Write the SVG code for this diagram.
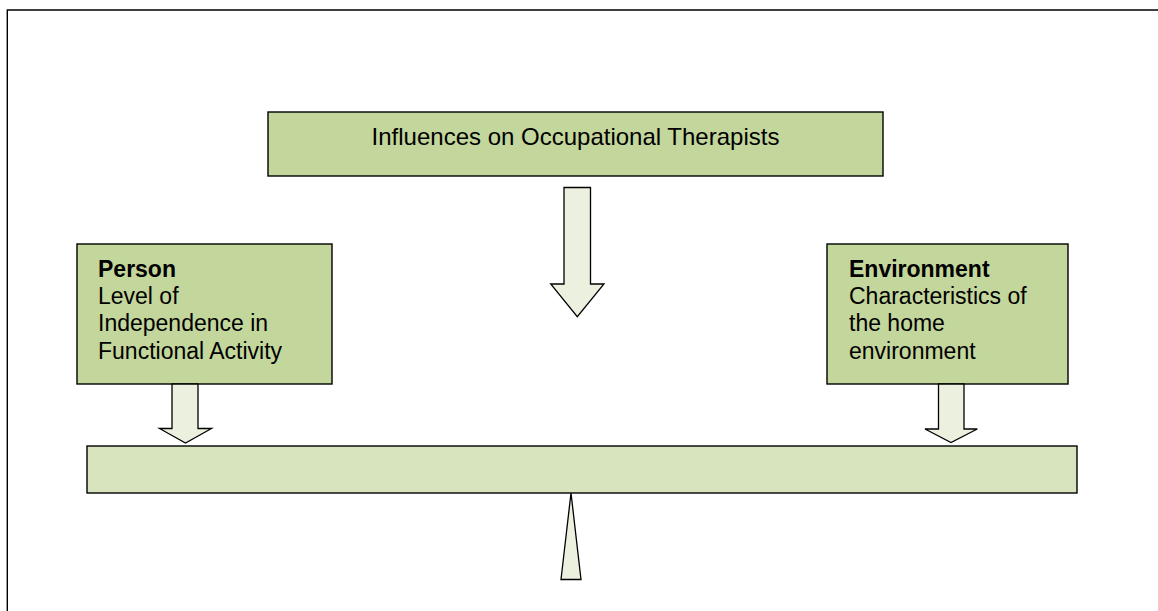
<svg xmlns="http://www.w3.org/2000/svg" width="1158" height="611" viewBox="0 0 1158 611">
<style>
.box{fill:#C3D69B;stroke:#000;stroke-width:1.4}
.bar{fill:#D7E4BD;stroke:#000;stroke-width:1.4}
.arr{fill:#EBF1DE;stroke:#000;stroke-width:1.3;stroke-linejoin:miter}
.frame{fill:none;stroke:#000;stroke-width:1.4}
text{font-family:"Liberation Sans",Arial,sans-serif;font-size:23px;fill:#000}
.b{font-weight:bold}
</style>
<rect width="1158" height="611" fill="#fff"/>
<path class="frame" d="M7.3,611 V10 H1158"/>
<g id="influences">
<rect class="box" x="268" y="112" width="615" height="64"/>
<text x="575.5" y="145" text-anchor="middle" style="font-size:24px">Influences on Occupational Therapists</text>
</g>
<g id="person">
<rect class="box" x="77" y="244" width="255" height="140"/>
<text x="98" y="277" class="b">Person</text>
<text x="98" y="304">Level of</text>
<text x="98" y="331">Independence in</text>
<text x="98" y="358.5">Functional Activity</text>
</g>
<g id="environment">
<rect class="box" x="827" y="244" width="241" height="140"/>
<text x="849" y="277" class="b">Environment</text>
<text x="849" y="304">Characteristics of</text>
<text x="849" y="331">the home</text>
<text x="849" y="358.5">environment</text>
</g>
<g id="balance">
<rect class="bar" x="87" y="446" width="990" height="47"/>
</g>
<g id="fulcrum">
<polygon class="arr" points="571,493 581,579.5 561,579.5"/>
</g>
<g id="connectors">
<polygon class="arr" points="564,187.5 590.5,187.5 590.5,284 604,284 577.3,316.7 550.7,284 564,284"/>
<polygon class="arr" points="172,384 198,384 198,428.5 211.5,428.5 185.5,443 159.5,428.5 172,428.5"/>
<polygon class="arr" points="938.5,384 964,384 964,429 977.3,429 951,442.5 925,429 938.5,429"/>
</g>
</svg>
